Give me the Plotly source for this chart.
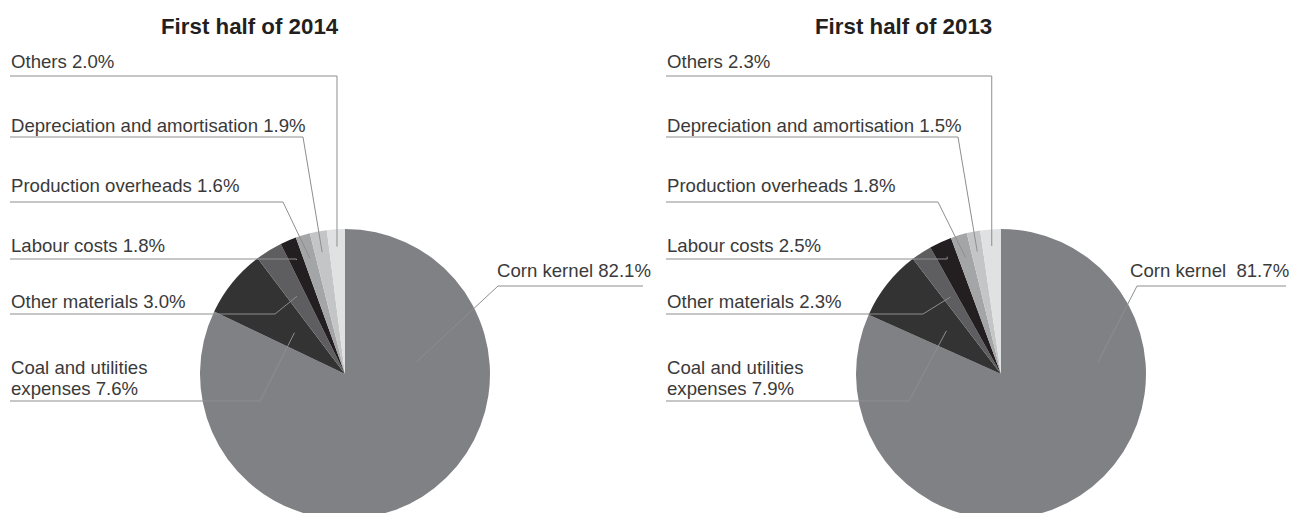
import math
import plotly.graph_objects as go

# ---------------- data ----------------
categories = ["Corn kernel", "Coal and utilities expenses", "Other materials",
              "Labour costs", "Production overheads",
              "Depreciation and amortisation", "Others"]
values_2014 = [82.1, 7.6, 3.0, 1.8, 1.6, 1.9, 2.0]
values_2013 = [81.7, 7.9, 2.3, 2.5, 1.8, 1.5, 2.3]
titles = ["First half of 2014", "First half of 2013"]

# ---------------- style / layout ----------------
slice_colors = ["#808185", "#333333", "#5e5e60", "#231f20",
                "#a4a5a7", "#c4c5c7", "#e0e1e3"]
W, H = 1291, 530
R = 145
LINE_COLOR = "#8e8e8e"
TEXT_COLOR = "#3a3a3a"
FONT = "Liberation Sans, Arial, Helvetica, sans-serif"
LABEL_SIZE = 18.6
TITLE_SIZE = 22.3

pies = [
    dict(values=values_2014, title=titles[0], cx=345, cy=374, x0=10, title_x=250,
         corn_sep=" ",
         anchor_r=[0.5, 0.45, 0.63, 0.855, 0.835, 0.855, 0.88],
         anchor_pos=[0.272, 0.5, 0.5, 0.5, 0.5, 0.5, 0.5],
         elbow_dx=[None, -85, -70, None, -62, -42, None],
         corn_line=(153, 298), corn_text_dx=151),
    dict(values=values_2013, title=titles[1], cx=1001, cy=374, x0=666, title_x=904,
         corn_sep="\u00a0 ",
         anchor_r=[0.675, 0.48, 0.635, 0.89, 0.84, 0.86, 0.885],
         anchor_pos=[0.282, 0.5, 0.5, 0.5, 0.5, 0.5, 0.5],
         elbow_dx=[None, -92, -78, None, -63, -43, None],
         corn_line=(136, 285), corn_text_dx=128),
]
# vertical placement of labels (text centre, underline y), per category
text_y = [269.5, (366, 387), 300, 244, 185, 125, 61]
underline_y = [286, 401, 314, 259, 202, 137, 76]


def px(x):
    return x / W


def py(y):
    return 1 - y / H


fig = go.Figure()
annotations = []
shapes = []


def seg(x0, y0, x1, y1):
    shapes.append(dict(type="line", xref="paper", yref="paper",
                       x0=px(x0), y0=py(y0), x1=px(x1), y1=py(y1),
                       line=dict(color=LINE_COLOR, width=1)))


def label(text, x, y):
    annotations.append(dict(
        text=text, x=px(x), y=py(y), xref="paper", yref="paper",
        xanchor="left", yanchor="middle", showarrow=False,
        font=dict(size=LABEL_SIZE, color=TEXT_COLOR, family=FONT)))


for p in pies:
    vals = p["values"]
    cx, cy = p["cx"], p["cy"]
    fig.add_trace(go.Pie(
        labels=categories, values=vals, sort=False, direction="clockwise",
        rotation=0, textinfo="none", hoverinfo="label+percent",
        marker=dict(colors=slice_colors, line=dict(width=0)),
        domain=dict(x=[px(cx - R), px(cx + R)], y=[py(cy + R), py(cy - R)]),
        showlegend=False,
    ))
    annotations.append(dict(
        text="<b>%s</b>" % p["title"], x=px(p["title_x"]), y=py(26.5),
        xref="paper", yref="paper", xanchor="center", yanchor="middle",
        showarrow=False, font=dict(size=TITLE_SIZE, color="#231f20", family=FONT)))

    total = sum(vals)
    cum = 0.0
    for i, v in enumerate(vals):
        frac = (cum + p["anchor_pos"][i] * v) / total
        cum += v
        theta = 2 * math.pi * frac
        r = p["anchor_r"][i] * R
        ax = cx + r * math.sin(theta)
        ay = cy - r * math.cos(theta)
        pct = "%.1f%%" % v
        if i == 0:
            lx0, lx1 = cx + p["corn_line"][0], cx + p["corn_line"][1]
            uy = underline_y[0]
            seg(ax, ay, lx0, uy)
            seg(lx0, uy, lx1, uy)
            label(categories[0] + p["corn_sep"] + pct, cx + p["corn_text_dx"] - 1, text_y[0] + 1)
            continue
        uy = underline_y[i]
        dx = p["elbow_dx"][i]
        ex = ax if dx is None else cx + dx
        seg(p["x0"], uy, ex, uy)
        seg(ex, uy, ax, ay)
        if i == 1:
            lines = ["Coal and utilities", "expenses " + pct]
            for line_text, ty in zip(lines, text_y[1]):
                label(line_text, p["x0"] - 1, ty + 1)
        else:
            label(categories[i] + " " + pct, p["x0"] - 1, text_y[i] + 1)

fig.update_layout(
    width=W, height=H, margin=dict(l=0, r=0, t=0, b=0, pad=0),
    paper_bgcolor="white", plot_bgcolor="white",
    annotations=annotations, shapes=shapes,
    font=dict(family=FONT, color=TEXT_COLOR),
)

fig.write_html(
    "out.html",
    config={"displayModeBar": False},
    post_script=("document.documentElement.style.margin='0';"
                 "document.body.style.margin='0';"
                 "document.documentElement.style.overflow='hidden';"
                 "document.body.style.overflow='hidden';"),
)
